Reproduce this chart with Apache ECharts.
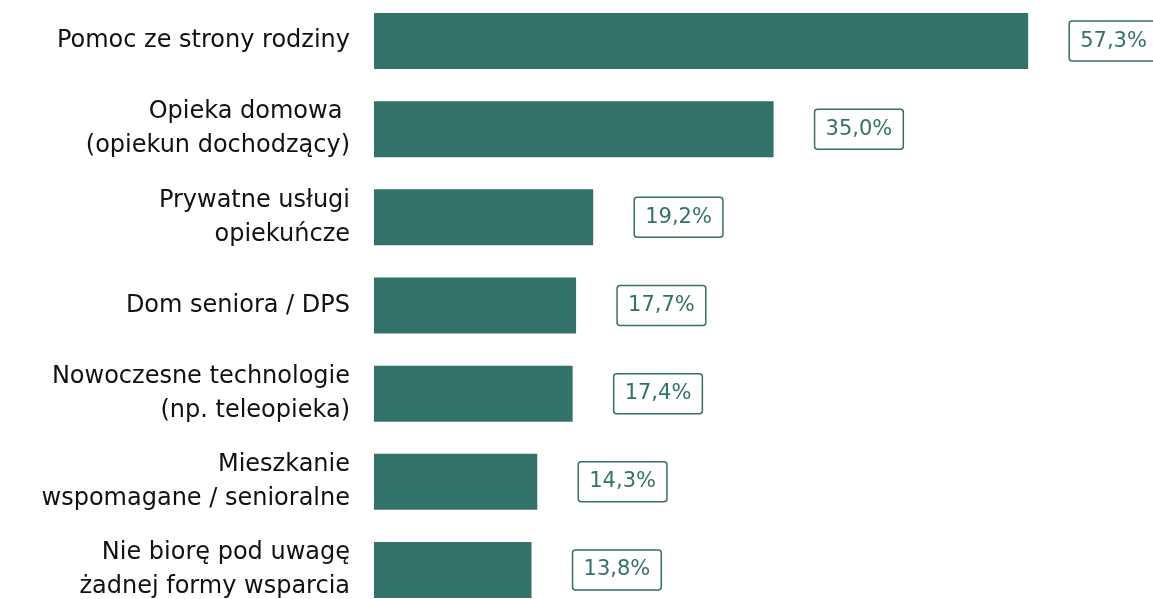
<!DOCTYPE html>
<html>
<head>
<meta charset="utf-8">
<title>Formy wsparcia</title>
<script src="https://cdn.jsdelivr.net/npm/echarts@6/dist/echarts.min.js"></script>
<style>
  html, body { margin: 0; padding: 0; background: #fff; }
  #chart { width: 1153px; height: 599px; }
</style>
</head>
<body>
<div id="chart"></div>
<script>
// kategorie (od góry)
var categories = [
  "Pomoc ze strony rodziny",
  "Opieka domowa \n(opiekun dochodzący)",
  "Prywatne usługi\nopiekuńcze",
  "Dom seniora / DPS",
  "Nowoczesne technologie\n(np. teleopieka)",
  "Mieszkanie\nwspomagane / senioralne",
  "Nie biorę pod uwagę\nżadnej formy wsparcia"
];
// wartości w %
var values = [57.3, 35.0, 19.2, 17.7, 17.4, 14.3, 13.8];

var mainColor = "#33726a";
var fontFam = "'DejaVu Sans', sans-serif";

var myChart = echarts.init(document.getElementById("chart"));
myChart.setOption({
  animation: false,
  grid: {
    left: 374,
    top: -3,
    width: 685,
    height: 617,
    outerBoundsMode: "none"
  },
  xAxis: {
    type: "value",
    min: 0,
    max: 60,
    show: false
  },
  yAxis: {
    type: "category",
    inverse: true,
    data: categories,
    axisLine: { show: false },
    axisTick: { show: false },
    axisLabel: {
      margin: 24,
      color: "#111",
      fontSize: 24,
      lineHeight: 34,
      fontFamily: fontFam,
      align: "right"
    }
  },
  series: [
    {
      type: "bar",
      data: values,
      barWidth: 56,
      itemStyle: { color: mainColor },
      label: {
        show: true,
        position: "right",
        distance: 41,
        color: mainColor,
        fontSize: 21,
        fontFamily: fontFam,
        borderColor: mainColor,
        borderWidth: 1.5,
        borderRadius: 3,
        padding: [10, 11, 9, 11],
        formatter: function (p) {
          return p.value.toFixed(1).replace(".", ",") + "%";
        }
      }
    }
  ]
});
</script>
</body>
</html>
